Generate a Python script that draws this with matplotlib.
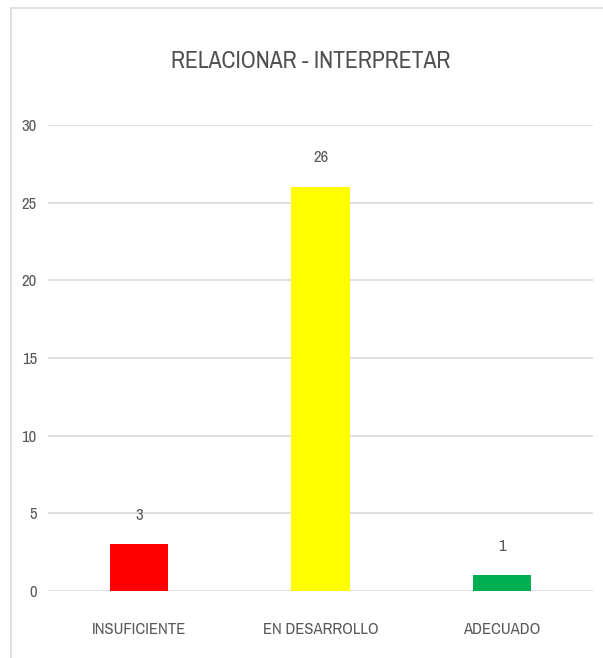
import matplotlib
matplotlib.use("Agg")
import matplotlib.pyplot as plt
from matplotlib import font_manager
from matplotlib.patches import Rectangle

categories = ["INSUFICIENTE", "EN DESARROLLO", "ADECUADO"]
values = [3, 26, 1]
bar_colors = ["#FF0000", "#FFFF00", "#00B050"]
title = "RELACIONAR - INTERPRETAR"

# look for a condensed face, the original uses a narrow font
fonts = font_manager.fontManager.ttflist
names = {f.name for f in fonts}
narrow = [n for n in names if "Narrow" in n or "Condensed" in n]
if narrow:
    plt.rcParams["font.family"] = [sorted(narrow)[0], "DejaVu Sans"]
    size_scale = 1.0
else:
    plt.rcParams["font.family"] = ["Liberation Sans", "DejaVu Sans"]
    size_scale = 0.85
text_color = "#595959"

fig = plt.figure(figsize=(6.03, 6.58), dpi=100)
fig.patches.append(Rectangle((11 / 603, -0.1), 1.2, 1 - 8 / 658 + 0.1,
                             transform=fig.transFigure, fill=False,
                             edgecolor="#D9D9D9", linewidth=1.2))

ax = fig.add_axes([48 / 603, 1 - 591 / 658, 545 / 603, (591 - 125) / 658])
x = range(len(categories))
bars = ax.bar(x, values, width=0.32, color=bar_colors, zorder=3)

fs = 12 * size_scale
for b, v in zip(bars, values):
    ax.annotate(str(v), (b.get_x() + b.get_width() / 2, v),
                xytext=(0, 21), textcoords="offset points",
                ha="center", va="center", fontsize=fs, color=text_color)

ax.set_xlim(-0.5, 2.5)
ax.set_ylim(0, 30)
ax.set_yticks(range(0, 31, 5))
ax.set_xticks(list(x))
ax.set_xticklabels(categories)
ax.grid(axis="y", color="#D9D9D9", linewidth=1.2, zorder=0)
for s in ax.spines.values():
    s.set_visible(False)
ax.tick_params(length=0, labelsize=fs, colors=text_color)
ax.tick_params(axis="x", pad=22)
ax.tick_params(axis="y", pad=8)

fig.text(311 / 603, 1 - 62 / 658, title, ha="center", va="center",
         fontsize=17 * size_scale, color="#505050")

plt.savefig("out.png", dpi=100)
